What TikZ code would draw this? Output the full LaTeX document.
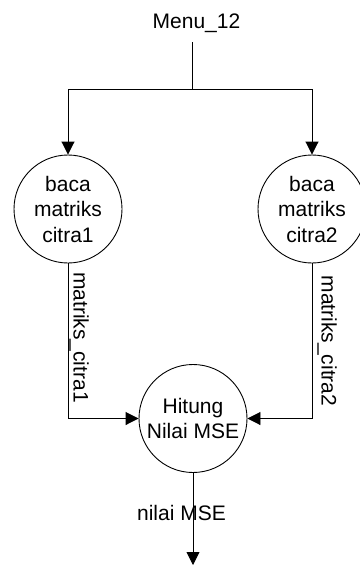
\documentclass[tikz,border=0pt]{standalone}
\usepackage{fontspec}
\setmainfont{Liberation Sans}
\usetikzlibrary{arrows.meta}
\begin{document}
\begin{tikzpicture}[x=1pt,y=-1pt,
  proc/.style={circle,draw,line width=0.9pt,minimum size=108pt,inner sep=0pt,align=center,font=\fontsize{21}{25.5}\selectfont},
  lbl/.style={inner sep=0pt,font=\fontsize{21}{25}\selectfont},
  flow/.style={draw,line width=0.9pt,-{Triangle[length=13pt,width=13pt]}},
  plain/.style={draw,line width=0.9pt}]
\useasboundingbox (0,0) rectangle (359,565);
\node[lbl, anchor=base] (menu) at (196.5,28) {Menu\_12};
\coordinate (menubot) at (192,42);
\coordinate (split) at (192,89);
\coordinate (splitL) at (68,89);
\coordinate (splitR) at (312,89);
\node[proc] (c1) at (68,209) {baca\\matriks\\citra1};
\node[proc] (c2) at (312,209) {baca\\matriks\\citra2};
\node[proc, font=\fontsize{21}{24.5}\selectfont] (mse) at (193,418.5) {Hitung\\Nilai MSE};
\coordinate (out) at (193,565);
\draw[plain] (menubot) -- (split);
\draw[plain] (splitL) -- (splitR);
\draw[flow] (splitL) -- (c1);
\draw[flow] (splitR) -- (c2);
\draw[flow] (c1.south) |- (mse.west);
\draw[flow] (c2.south) |- (mse.east);
\draw[flow] (mse.south) -- (out);
\node[lbl, rotate=-90, anchor=base] (l1) at (73.5,337.5) {matriks\_citra1};
\node[lbl, rotate=-90, anchor=base] (l2) at (321.5,341) {matriks\_citra2};
\node[lbl, anchor=base] (nl) at (181.5,520) {nilai MSE};
\end{tikzpicture}
\end{document}
